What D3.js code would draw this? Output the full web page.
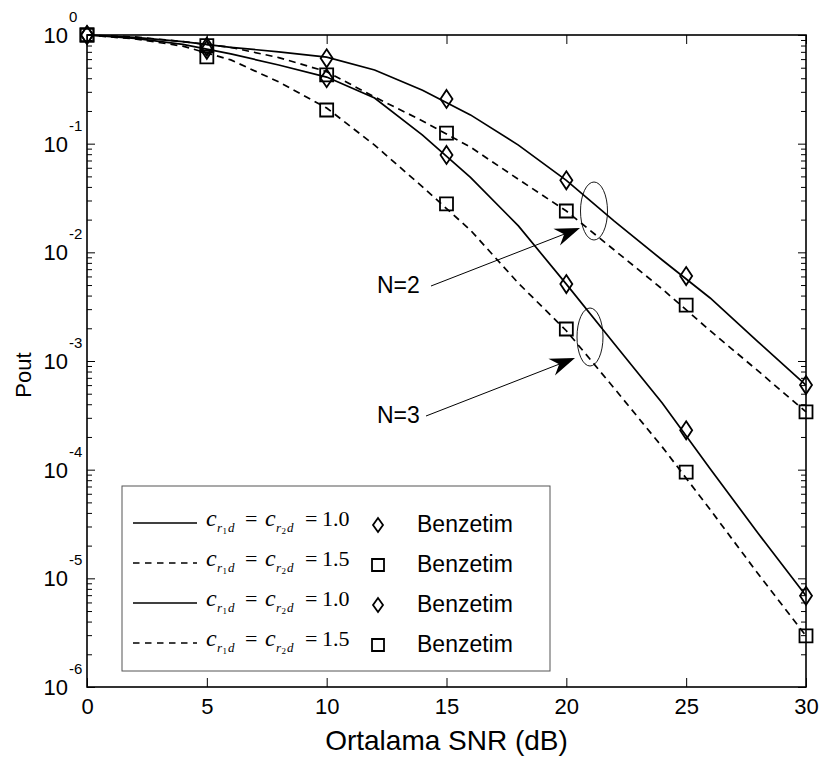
<!DOCTYPE html>
<html>
<head>
<meta charset="utf-8">
<script src="https://cdn.jsdelivr.net/npm/d3@7"></script>
<style>
  html, body { margin: 0; padding: 0; background: #fff; }
  svg { display: block; }
</style>
</head>
<body>
<svg id="chart" width="822" height="760"></svg>
<script>
// SNR grid of the analytical curves and of the simulation points (dB)
const snrCurve = [0, 2, 4, 6, 8, 10, 12, 14, 16, 18, 20, 22, 24, 26, 28, 30];
const snrSim = [0, 5, 10, 15, 20, 25, 30];

// Analytical outage probability
const curveN2c10 = [1.0, 0.95, 0.87, 0.77, 0.70, 0.625, 0.476, 0.31, 0.184, 0.097, 0.046, 0.0194, 0.0085, 0.0038, 0.0015, 6.0e-4];
const curveN2c15 = [1.0, 0.96, 0.87, 0.77, 0.62, 0.46, 0.269, 0.162, 0.093, 0.047, 0.024, 0.0105, 0.0046, 0.0019, 8.1e-4, 3.4e-4];
const curveN3c10 = [1.0, 0.93, 0.82, 0.67, 0.53, 0.41, 0.263, 0.12, 0.049, 0.0175, 0.0051, 0.00144, 4.1e-4, 1.02e-4, 2.6e-5, 6.9e-6];
const curveN3c15 = [1.0, 0.92, 0.79, 0.59, 0.37, 0.213, 0.097, 0.040, 0.016, 0.0052, 0.0019, 5.6e-4, 1.62e-4, 4.3e-5, 1.1e-5, 2.95e-6];

// Simulation ("Benzetim") points
const simN2c10 = [1.0, 0.78, 0.61, 0.258, 0.046, 0.00605, 6.0e-4];
const simN2c15 = [1.0, 0.80, 0.43, 0.125, 0.024, 0.00327, 3.4e-4];
const simN3c10 = [1.0, 0.73, 0.40, 0.0787, 0.0051, 2.3e-4, 6.9e-6];
const simN3c15 = [1.0, 0.63, 0.204, 0.0279, 0.00197, 9.5e-5, 2.95e-6];

// Axis ticks
const xTickValues = [0, 5, 10, 15, 20, 25, 30];
const yDecadeExponents = [0, -1, -2, -3, -4, -5, -6];

// Legend entries: coefficient value, line style, marker shape
const legendCoef = ["1.0", "1.5", "1.0", "1.5"];
const legendDashed = [false, true, false, true];
const legendMarker = ["diamond", "square", "diamond", "square"];
const legendLabel = "Benzetim";

// Annotations
const groupLabels = ["N=2", "N=3"];

const plot = { left: 87, right: 806, top: 35, bottom: 687 };
const sansFont = "'Liberation Sans', Arial, sans-serif";
const serifFont = "'Liberation Serif', 'Times New Roman', serif";

const svg = d3.select("#chart");

const x = d3.scaleLinear().domain([0, 30]).range([plot.left, plot.right]);
const y = d3.scaleLog().domain([1e-6, 1]).range([plot.bottom, plot.top]);

// ---- axes: ticks point inward on all four sides ----
const majorY = yDecadeExponents.map(e => Math.pow(10, e));
const minorY = [];
for (let e = -6; e < 0; e++) for (let m = 2; m <= 9; m++) minorY.push(m * Math.pow(10, e));

function styleAxis(g) {
  g.select(".domain").remove();
  g.selectAll(".tick line").attr("stroke", "#000").attr("stroke-width", 1);
  g.selectAll(".tick text").attr("fill", "#000");
}

svg.append("g")
  .attr("transform", `translate(0,${plot.bottom})`)
  .call(d3.axisBottom(x).tickValues(xTickValues).tickSizeInner(-9).tickSizeOuter(0).tickPadding(11))
  .call(styleAxis)
  .call(g => g.selectAll(".tick text").attr("font-family", sansFont).attr("font-size", 22));

svg.append("g")
  .attr("transform", `translate(0,${plot.top})`)
  .call(d3.axisTop(x).tickValues(xTickValues).tickSizeInner(-9).tickSizeOuter(0).tickFormat(""))
  .call(styleAxis);

[[plot.left, d3.axisLeft], [plot.right, d3.axisRight]].forEach(([px, ax]) => {
  svg.append("g")
    .attr("transform", `translate(${px},0)`)
    .call(ax(y).tickValues(majorY).tickSizeInner(-8).tickSizeOuter(0).tickFormat(""))
    .call(styleAxis);
  svg.append("g")
    .attr("transform", `translate(${px},0)`)
    .call(ax(y).tickValues(minorY).tickSizeInner(-5).tickSizeOuter(0).tickFormat(""))
    .call(styleAxis);
});

// y tick labels as 10 with a raised exponent
const yLab = svg.append("g").attr("font-family", sansFont).attr("fill", "#000");
yDecadeExponents.forEach(e => {
  const ty = y(Math.pow(10, e));
  yLab.append("text").attr("x", 68).attr("y", ty + 8)
    .attr("text-anchor", "end").attr("font-size", 22).text("10");
  yLab.append("text").attr("x", 69).attr("y", ty - 13)
    .attr("text-anchor", "start").attr("font-size", 15).text(String(e));
});

// frame
svg.append("rect")
  .attr("x", plot.left).attr("y", plot.top)
  .attr("width", plot.right - plot.left).attr("height", plot.bottom - plot.top)
  .attr("fill", "none").attr("stroke", "#000").attr("stroke-width", 1.6);

// axis titles
svg.append("text")
  .attr("x", (plot.left + plot.right) / 2).attr("y", 750)
  .attr("text-anchor", "middle").attr("font-family", sansFont).attr("font-size", 28)
  .text("Ortalama SNR (dB)");
svg.append("text")
  .attr("transform", `translate(31,${(plot.top + plot.bottom) / 2 + 14}) rotate(-90)`)
  .attr("text-anchor", "middle").attr("font-family", sansFont).attr("font-size", 22)
  .text("Pout");

// ---- curves ----
const line = d3.line().x(d => x(d[0])).y(d => y(d[1]));
const curves = [
  { vals: curveN2c10, dashed: false },
  { vals: curveN2c15, dashed: true },
  { vals: curveN3c10, dashed: false },
  { vals: curveN3c15, dashed: true }
];
const dashPattern = "7,5";
curves.forEach(c => {
  svg.append("path")
    .datum(snrCurve.map((s, i) => [s, c.vals[i]]))
    .attr("d", line)
    .attr("fill", "none").attr("stroke", "#000").attr("stroke-width", 1.7)
    .attr("stroke-dasharray", c.dashed ? dashPattern : null);
});

// ---- simulation markers ----
function diamondPath(w, h) {
  return `M0,${-h / 2}L${w / 2},0L0,${h / 2}L${-w / 2},0Z`;
}
function squarePath(s) {
  return `M${-s / 2},${-s / 2}h${s}v${s}h${-s}Z`;
}
const sims = [
  { vals: simN2c10, shape: "diamond" },
  { vals: simN2c15, shape: "square" },
  { vals: simN3c10, shape: "diamond" },
  { vals: simN3c15, shape: "square" }
];
sims.forEach(s => {
  svg.append("g").selectAll("path")
    .data(snrSim.map((v, i) => [v, s.vals[i]]))
    .join("path")
    .attr("transform", d => `translate(${x(d[0])},${y(d[1])})`)
    .attr("d", s.shape === "diamond" ? diamondPath(12, 18) : squarePath(13))
    .attr("fill", "none").attr("stroke", "#000").attr("stroke-width", 1.8);
});

// ---- group annotations: ellipses, arrows and labels ----
const annot = [
  { label: groupLabels[0], cx: 594, cy: 211, rx: 13.5, ry: 29, tx: 377, ty: 293, from: [431, 286], tip: [580, 228] },
  { label: groupLabels[1], cx: 590, cy: 337, rx: 13, ry: 29, tx: 377, ty: 423, from: [426, 416], tip: [575, 358] }
];
annot.forEach(a => {
  svg.append("ellipse").attr("cx", a.cx).attr("cy", a.cy).attr("rx", a.rx).attr("ry", a.ry)
    .attr("fill", "none").attr("stroke", "#000").attr("stroke-width", 0.9);
  const dx = a.tip[0] - a.from[0], dy = a.tip[1] - a.from[1];
  const len = Math.hypot(dx, dy), ux = dx / len, uy = dy / len, px = -uy, py = ux;
  const headLen = 25, headHalf = 9, notch = 17;
  const base = [a.tip[0] - ux * headLen, a.tip[1] - uy * headLen];
  const back = [a.tip[0] - ux * notch, a.tip[1] - uy * notch];
  svg.append("line")
    .attr("x1", a.from[0]).attr("y1", a.from[1]).attr("x2", back[0]).attr("y2", back[1])
    .attr("stroke", "#000").attr("stroke-width", 1);
  svg.append("path")
    .attr("d", `M${a.tip[0]},${a.tip[1]}L${base[0] + px * headHalf},${base[1] + py * headHalf}L${back[0]},${back[1]}L${base[0] - px * headHalf},${base[1] - py * headHalf}Z`)
    .attr("fill", "#000");
  svg.append("text").attr("x", a.tx).attr("y", a.ty)
    .attr("font-family", sansFont).attr("font-size", 23).text(a.label);
});

// ---- legend ----
const lg = { left: 122, top: 486, right: 550, bottom: 671, firstRow: 523, rowStep: 40 };
svg.append("rect")
  .attr("x", lg.left).attr("y", lg.top)
  .attr("width", lg.right - lg.left).attr("height", lg.bottom - lg.top)
  .attr("fill", "#fff").attr("stroke", "#555").attr("stroke-width", 1);

legendCoef.forEach((coef, i) => {
  const ry = lg.firstRow + i * lg.rowStep;
  svg.append("line")
    .attr("x1", 133).attr("x2", 197).attr("y1", ry).attr("y2", ry)
    .attr("stroke", "#000").attr("stroke-width", 1.7)
    .attr("stroke-dasharray", legendDashed[i] ? "6.5,5.5" : null);

  const mg = svg.append("g").attr("font-family", serifFont).attr("fill", "#000");
  const base = ry + 3;
  const sub = base + 6;
  const piece = (tx, ty, size, italic, str) =>
    mg.append("text").attr("x", tx).attr("y", ty).attr("font-size", size)
      .attr("font-style", italic ? "italic" : "normal").text(str);
  piece(206, base, 24, true, "c");
  piece(217, sub, 13, true, "r");
  piece(222.5, sub + 2, 9, false, "1");
  piece(228, sub, 13, true, "d");
  piece(245, base, 22, false, "=");
  piece(265, base, 24, true, "c");
  piece(276, sub, 13, true, "r");
  piece(281.5, sub + 2, 9, false, "2");
  piece(287, sub, 13, true, "d");
  piece(305, base, 22, false, "=");
  piece(322, base, 22, false, coef);

  svg.append("path")
    .attr("transform", `translate(378,${ry + 2})`)
    .attr("d", legendMarker[i] === "diamond" ? diamondPath(10, 14) : squarePath(12))
    .attr("fill", "none").attr("stroke", "#000").attr("stroke-width", 1.8);

  svg.append("text").attr("x", 417).attr("y", ry + 9)
    .attr("font-family", sansFont).attr("font-size", 23).text(legendLabel);
});
</script>
</body>
</html>
